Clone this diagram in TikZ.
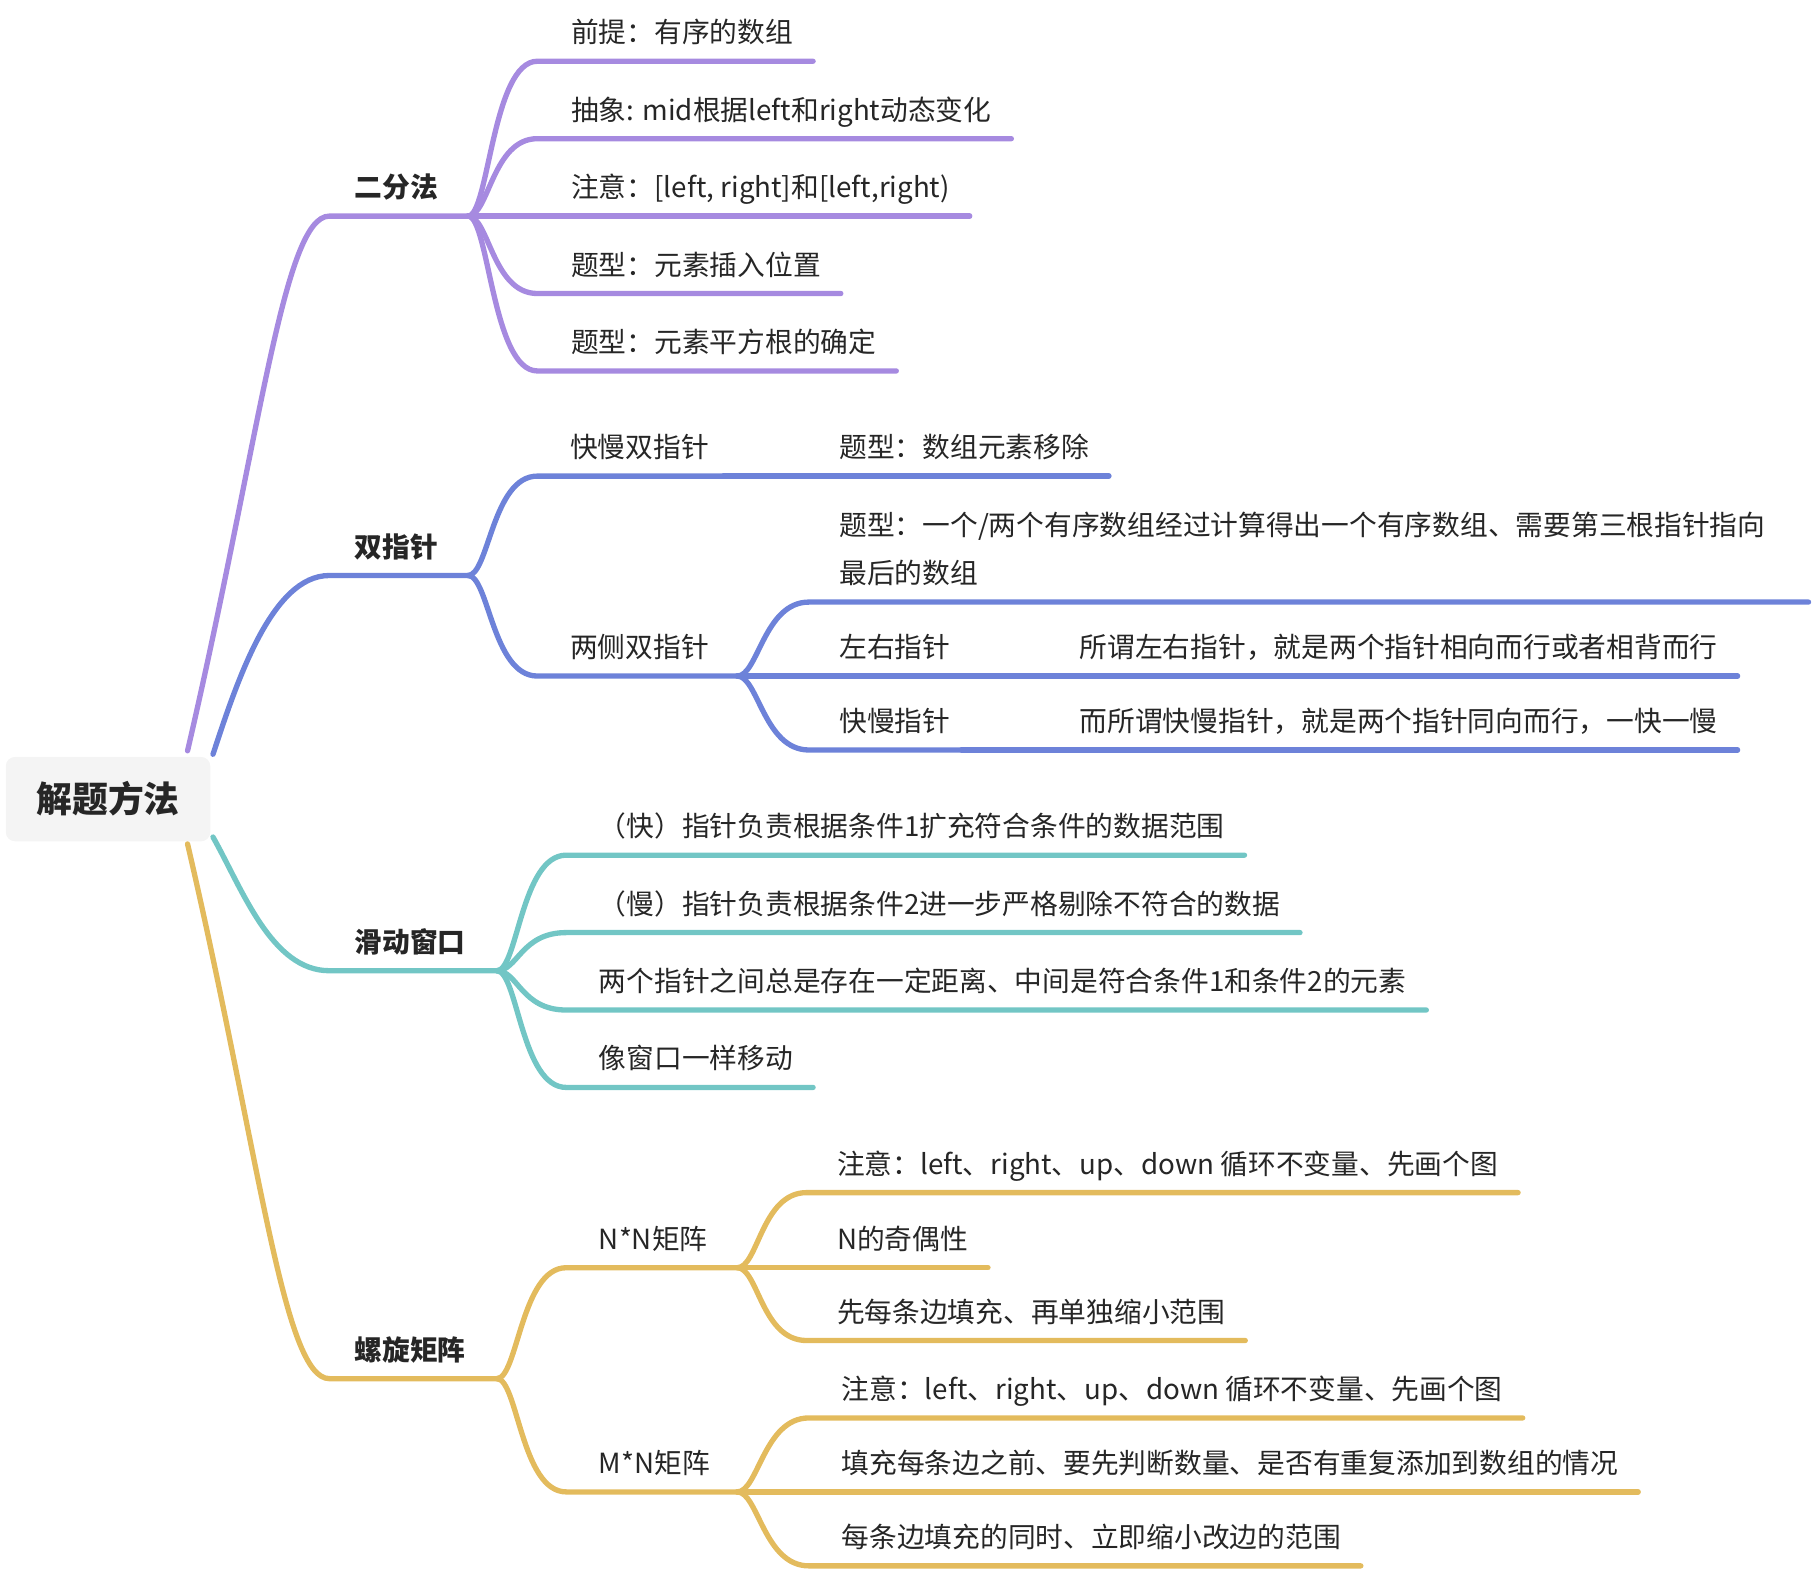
\documentclass[tikz,border=0pt]{standalone}
\usepackage{fontspec}
\setmainfont{Noto Sans CJK SC}
\usepackage{tikz}
\usetikzlibrary{calc,positioning}

\definecolor{cPur}{HTML}{A68AE0}
\definecolor{cBlu}{HTML}{6D82D9}
\definecolor{cTea}{HTML}{72C6C5}
\definecolor{cYel}{HTML}{E3BB5D}
\definecolor{cTxt}{HTML}{262626}

\begin{document}
\begin{tikzpicture}[x=1pt, y=-1pt, line width=4.6pt, line cap=round,
  leaf/.style={anchor=base west, inner sep=0pt, text=cTxt, font=\fontsize{24}{42}\selectfont},
  lab/.style={leaf, anchor=base, font=\fontsize{24}{30}\selectfont\bfseries},
  sub/.style={to path={.. controls +(18,0) and +(-39,0) .. (\tikztotarget)}}]

\useasboundingbox (0,0) rectangle (1568,1359);

% Thema central
\node[fill=gray!9, rounded corners=8pt, minimum width=177pt, minimum height=73pt,
  text=cTxt, font=\fontsize{31}{36}\selectfont\bfseries] (root) at (93.5,691.5) {解题方法};

% Rama 1: 二分法
\coordinate (binA) at (285,187);
\coordinate (bin) at (405,187);
\node[lab] (binT) at (343,171) {二分法};
\draw[cPur] ($(root.north east)+(-22,-3)$) .. controls (225,380) and (245,187) .. (binA) -- (bin);

\node[leaf] (b1) at (492,37) {前提：有序的数组};
\node[leaf] (b2) at (492,104) {抽象: mid根据left和right动态变化};
\node[leaf] (b3) at (492,171) {注意：[left, right]和[left,right)};
\node[leaf] (b4) at (492,238) {题型：元素插入位置};
\node[leaf] (b5) at (492,305) {题型：元素平方根的确定};
\draw[cPur] (bin) to[sub] ($(b1.base west)+(-27,16)$) -- ($(b1.base east)+(15,16)$);
\draw[cPur] (bin) to[sub] ($(b2.base west)+(-27,16)$) -- ($(b2.base east)+(15,16)$);
\draw[cPur] (bin) to[sub] ($(b3.base west)+(-27,16)$) -- ($(b3.base east)+(15,16)$);
\draw[cPur] (bin) to[sub] ($(b4.base west)+(-27,16)$) -- ($(b4.base east)+(15,16)$);
\draw[cPur] (bin) to[sub] ($(b5.base west)+(-27,16)$) -- ($(b5.base east)+(15,16)$);

% Rama 2: 双指针
\coordinate (dpA) at (285,498);
\coordinate (dp) at (405,498);
\node[lab] (dpT) at (343,482) {双指针};
\draw[cBlu] (root.north east) .. controls (205,590) and (235,498) .. (dpA) -- (dp);

\node[leaf] (kmT) at (491,396) {快慢双指针};
\coordinate (km) at (626,412);
\draw[cBlu] (dp) to[sub] ($(kmT.base west)+(-26,16)$) -- (km);
\node[leaf] (rmT) at (724,396) {题型：数组元素移除};
\draw[cBlu] (km) -- ($(rmT.base east)+(15,16)$);

\node[leaf] (lcT) at (491,569) {两侧双指针};
\coordinate (lc) at (638,585);
\draw[cBlu] (dp) to[sub] ($(lcT.base west)+(-26,16)$) -- (lc);

\node[leaf, align=left] (hbT) at (724,505) {题型：一个/两个有序数组经过计算得出一个有序数组、需要第三根指针指向\\最后的数组};
\coordinate (hbL) at (700,521);
\coordinate (hbR) at (1565,521);
\draw[cBlu] (lc) to[sub] (hbL) -- (hbR);

\node[leaf] (zyT) at (724,569) {左右指针};
\coordinate (zy) at (832,585);
\draw[cBlu] (lc) to[sub] ($(zyT.base west)+(-24,16)$) -- (zy);
\node[leaf] (zyD) at (932,569) {所谓左右指针，就是两个指针相向而行或者相背而行};
\draw[cBlu] (zy) -- ($(zyD.base east)+(15,16)$);

\node[leaf] (kzT) at (724,633) {快慢指针};
\coordinate (kz) at (832,649);
\draw[cBlu] (lc) to[sub] ($(kzT.base west)+(-24,16)$) -- (kz);
\node[leaf] (kzD) at (932,633) {而所谓快慢指针，就是两个指针同向而行，一快一慢};
\draw[cBlu] (kz) -- ($(kzD.base east)+(15,16)$);

% Rama 3: 滑动窗口
\coordinate (hcA) at (285,840);
\coordinate (hc) at (430,840);
\node[lab] (hcT) at (355,824) {滑动窗口};
\draw[cTea] ($(root.south east)+(0,-6)$) .. controls (210,770) and (235,840) .. (hcA) -- (hc);

\node[leaf] (h1) at (516,724) {（快）指针负责根据条件1扩充符合条件的数据范围};
\node[leaf] (h2) at (516,791) {（慢）指针负责根据条件2进一步严格剔除不符合的数据};
\node[leaf] (h3) at (516,858) {两个指针之间总是存在一定距离、中间是符合条件1和条件2的元素};
\node[leaf] (h4) at (516,925) {像窗口一样移动};
\draw[cTea] (hc) to[sub] ($(h1.base west)+(-26,16)$) -- ($(h1.base east)+(15,16)$);
\draw[cTea] (hc) to[sub] ($(h2.base west)+(-26,16)$) -- ($(h2.base east)+(15,16)$);
\draw[cTea] (hc) to[sub] ($(h3.base west)+(-26,16)$) -- ($(h3.base east)+(15,16)$);
\draw[cTea] (hc) to[sub] ($(h4.base west)+(-26,16)$) -- ($(h4.base east)+(15,16)$);

% Rama 4: 螺旋矩阵
\coordinate (lxA) at (285,1193);
\coordinate (lx) at (430,1193);
\node[lab] (lxT) at (355,1177) {螺旋矩阵};
\draw[cYel] ($(root.south east)+(-22,0)$) .. controls (225,1000) and (245,1193) .. (lxA) -- (lx);

\node[leaf] (nnT) at (516,1081) {N*N矩阵};
\coordinate (nn) at (638,1097);
\draw[cYel] (lx) to[sub] ($(nnT.base west)+(-26,16)$) -- (nn);
\node[leaf] (n1) at (722,1016) {注意：left、right、up、down 循环不变量、先画个图};
\node[leaf] (n2) at (722,1081) {N的奇偶性};
\node[leaf] (n3) at (722,1144) {先每条边填充、再单独缩小范围};
\draw[cYel] (nn) to[sub] ($(n1.base west)+(-24,16)$) -- ($(n1.base east)+(15,16)$);
\draw[cYel] (nn) to[sub] ($(n2.base west)+(-24,16)$) -- ($(n2.base east)+(15,16)$);
\draw[cYel] (nn) to[sub] ($(n3.base west)+(-24,16)$) -- ($(n3.base east)+(15,16)$);

\node[leaf] (mnT) at (516,1275) {M*N矩阵};
\coordinate (mn) at (638,1291);
\draw[cYel] (lx) to[sub] ($(mnT.base west)+(-26,16)$) -- (mn);
\node[leaf] (m1) at (726,1211) {注意：left、right、up、down 循环不变量、先画个图};
\node[leaf] (m2) at (726,1275) {填充每条边之前、要先判断数量、是否有重复添加到数组的情况};
\node[leaf] (m3) at (726,1339) {每条边填充的同时、立即缩小改边的范围};
\draw[cYel] (mn) to[sub] ($(m1.base west)+(-26,16)$) -- ($(m1.base east)+(15,16)$);
\draw[cYel] (mn) to[sub] ($(m2.base west)+(-26,16)$) -- ($(m2.base east)+(15,16)$);
\draw[cYel] (mn) to[sub] ($(m3.base west)+(-26,16)$) -- ($(m3.base east)+(15,16)$);

\end{tikzpicture}
\end{document}
